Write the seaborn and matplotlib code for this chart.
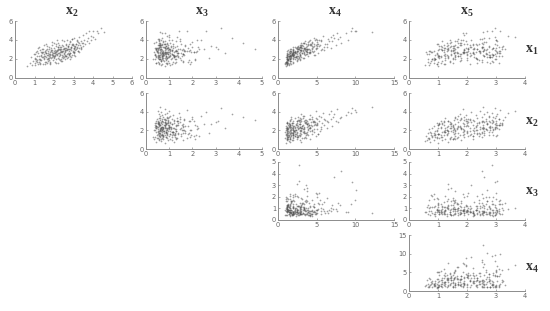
import matplotlib
matplotlib.use("Agg")
import matplotlib.pyplot as plt
import pandas as pd
import seaborn as sns

x1 = [
    1.3, 1.55, 2.2, 1.4, 1.75, 2.5, 1.6, 2.1, 1.35, 2.7, 1.9, 2.3, 1.45, 2.6, 1.7,
    2.05, 2.9, 1.6, 2.4, 1.85, 2.75, 2.2, 3.1, 1.5, 2.55, 1.95, 2.85, 2.35, 1.7, 2.65,
    2.45, 3.0, 1.8, 2.6, 3.3, 2.1, 2.75, 1.55, 2.4, 2.95, 2.2, 3.5, 2.55, 1.9, 2.8,
    3.15, 2.35, 2.7, 1.95, 3.4, 2.5, 2.9, 2.15, 3.7, 2.6, 3.05, 2.3, 3.25, 2.75, 1.8,
    3.0, 2.45, 3.5, 2.8, 2.15, 3.9, 2.65, 3.2, 2.4, 2.95, 3.6, 2.55, 3.1, 2.25, 3.35,
    2.8, 3.05, 2.6, 3.75, 2.95, 3.3, 2.45, 4.1, 2.85, 3.5, 3.15, 2.7, 4.2, 3.4, 2.9,
    3.6, 3.0, 4.0, 3.3, 2.85, 3.75, 3.15, 4.3, 3.5, 3.9, 3.05, 3.7, 4.5, 3.35, 4.05,
    3.55, 4.7, 3.85, 4.2, 3.7, 4.9, 4.45, 4.0, 4.95, 4.3, 4.15, 5.0, 4.75, 5.3, 4.8,
    2.3, 2.6, 2.0, 2.5, 2.9, 2.25, 2.7, 3.1, 2.4, 2.85, 2.5, 3.2, 2.65, 3.0, 3.45,
    2.7, 1.95, 2.35, 2.15, 2.6, 2.9, 2.45, 2.0, 2.75, 2.3, 2.85, 2.1, 2.55, 3.3, 2.7,
    2.5, 3.2, 2.6, 3.6, 2.25, 3.7, 3.25, 1.75, 2.35, 3.9, 2.6, 3.15, 1.95, 2.85, 1.6,
    1.95, 2.2, 2.45, 2.9, 3.4, 3.25, 3.65, 2.8, 2.95, 2.35, 2.5, 2.65, 3.3, 2.5, 3.0,
    2.05, 1.45, 1.5, 1.5, 1.7, 1.85, 2.0, 2.3, 2.4, 2.75, 2.85, 3.05, 3.35, 3.75, 3.95,
    4.0, 4.05, 4.15, 3.6, 3.3, 3.3, 3.45, 1.85, 2.1, 2.6, 2.2, 2.45, 2.75, 2.85, 3.7,
    1.85, 2.2, 2.75, 1.6, 3.15, 2.65, 2.35, 2.75, 3.1, 2.35, 2.05, 2.9, 3.6, 3.45, 1.65,
    3.2, 2.55, 3.35, 3.6, 3.2, 1.65, 2.3, 3.45, 2.3, 3.2, 2.75, 2.45, 2.85, 2.2, 3.05,
    2.6, 2.95, 2.7, 2.35, 2.05, 2.95, 1.7, 2.5, 3.05, 3.3, 3.9, 3.15, 1.75, 2.1, 3.55,
    2.3, 1.6, 2.45, 3.6, 2.8, 3.5, 2.2, 3.35, 3.3, 3.1, 2.85, 2.7, 2.4, 3.0, 2.1,
]
x2 = [
    0.62, 0.75, 0.8, 0.88, 0.92, 0.95, 1.0, 1.02, 1.05, 1.1, 1.12, 1.15, 1.18, 1.2, 1.22,
    1.25, 1.28, 1.3, 1.32, 1.35, 1.38, 1.4, 1.42, 1.45, 1.48, 1.5, 1.52, 1.55, 1.58, 1.6,
    1.62, 1.65, 1.68, 1.7, 1.72, 1.75, 1.78, 1.8, 1.82, 1.85, 1.88, 1.9, 1.92, 1.95, 1.98,
    2.0, 2.02, 2.05, 2.08, 2.1, 2.12, 2.15, 2.18, 2.2, 2.22, 2.25, 2.28, 2.3, 2.32, 2.35,
    2.38, 2.4, 2.42, 2.45, 2.48, 2.5, 2.52, 2.55, 2.58, 2.6, 2.62, 2.65, 2.68, 2.7, 2.72,
    2.75, 2.78, 2.8, 2.82, 2.85, 2.88, 2.9, 2.92, 2.95, 2.98, 3.0, 3.02, 3.05, 3.08, 3.1,
    3.12, 3.15, 3.18, 3.2, 3.22, 3.25, 3.28, 3.3, 3.35, 3.38, 3.4, 3.45, 3.48, 3.5, 3.55,
    3.6, 3.65, 3.7, 3.72, 3.78, 3.82, 3.88, 3.92, 3.98, 4.02, 4.1, 4.18, 4.25, 4.4, 4.55,
    1.5, 1.6, 1.7, 1.8, 1.9, 2.0, 2.1, 2.2, 2.3, 2.4, 2.5, 2.6, 2.7, 2.8, 2.9,
    1.55, 1.65, 1.75, 1.85, 1.95, 2.05, 2.15, 2.25, 2.35, 2.45, 2.55, 2.65, 2.75, 2.85, 2.95,
    1.0, 1.2, 1.4, 1.6, 1.8, 2.0, 2.2, 2.4, 2.6, 2.8, 3.0, 3.2, 1.3, 1.7, 2.1,
    1.1, 1.45, 1.9, 2.3, 2.7, 3.1, 3.3, 2.15, 2.55, 1.35, 1.75, 2.05, 2.35, 2.75, 3.05,
    1.05, 1.3, 1.55, 1.8, 2.05, 2.3, 2.55, 2.8, 3.05, 3.3, 1.15, 1.4, 1.65, 1.9, 2.15,
    2.4, 2.65, 2.9, 3.15, 3.4, 1.25, 1.5, 1.75, 2.0, 2.25, 2.5, 2.75, 3.0, 3.25, 3.5,
    1.3, 1.6, 1.9, 2.2, 2.5, 2.8, 3.1, 1.45, 1.75, 2.05, 2.35, 2.65, 2.95, 3.25, 1.15,
    1.85, 2.15, 2.45, 2.75, 3.05, 1.55, 1.95, 2.25, 2.55, 2.85, 1.35, 1.7, 2.1, 2.4, 2.7,
    2.0, 2.2, 2.4, 2.6, 2.8, 1.6, 1.8, 2.3, 2.5, 2.7, 3.2, 3.4, 1.1, 1.5, 2.9,
    1.25, 1.65, 1.95, 2.1, 2.35, 2.6, 2.85, 3.0, 2.2, 2.45, 1.85, 2.55, 2.05, 2.3, 1.7,
]
x3 = [
    0.8, 0.45, 1.2, 0.65, 0.95, 1.6, 0.55, 0.75, 1.05, 0.35, 2.1, 0.7, 0.9, 1.35, 0.5,
    0.6, 1.1, 0.85, 0.4, 1.5, 0.72, 0.98, 2.3, 0.58, 0.82, 1.25, 0.48, 0.68, 1.8, 0.92,
    1.02, 0.52, 0.78, 1.4, 0.62, 2.7, 0.88, 0.42, 1.15, 0.7, 0.55, 1.7, 0.95, 0.66, 1.3,
    0.38, 0.85, 1.95, 0.6, 1.08, 0.75, 0.5, 1.45, 0.9, 3.4, 0.64, 1.2, 0.8, 0.46, 1.6,
    1.0, 0.7, 0.56, 2.2, 0.84, 1.28, 0.6, 0.94, 0.4, 1.55, 0.76, 1.1, 2.5, 0.52, 0.88,
    0.66, 1.38, 0.8, 0.44, 1.05, 3.0, 0.72, 0.58, 1.85, 0.96, 0.5, 1.22, 0.68, 0.86, 1.65,
    0.62, 4.7, 1.12, 0.78, 0.48, 2.0, 0.9, 1.32, 0.54, 0.74, 1.48, 4.2, 0.98, 0.6, 2.35,
    1.18, 0.7, 0.82, 3.7, 0.56, 1.42, 0.92, 0.65, 2.6, 1.0, 0.5, 1.75, 0.8, 3.25, 0.6,
    0.75, 1.05, 0.55, 0.88, 1.3, 0.62, 0.98, 0.45, 1.15, 0.72, 1.6, 0.58, 0.85, 1.02, 0.5,
    0.9, 0.68, 1.25, 0.52, 0.78, 1.9, 0.6, 1.08, 0.82, 0.42, 1.35, 0.7, 0.95, 0.65, 2.05,
    1.12, 0.48, 0.74, 1.5, 0.86, 0.36, 2.25, 0.66, 1.0, 0.56, 1.4, 0.8, 0.32, 1.7, 0.92,
    0.58, 1.2, 0.76, 0.44, 2.8, 0.96, 0.62, 1.28, 0.84, 0.54, 1.58, 0.7, 1.06, 0.4, 3.1,
    1.3, 1.9, 0.7, 1.1, 1.6, 0.85, 2.1, 0.5, 1.35, 0.95, 1.75, 0.6, 1.15, 0.75, 2.2,
    1.0, 0.55, 1.45, 0.8, 2.0, 1.25, 0.65, 1.85, 0.9, 1.5, 0.45, 1.2, 0.7, 1.65, 1.05,
    0.75, 1.4, 0.6, 1.0, 1.8, 0.5, 1.2, 2.15, 0.85, 1.55, 0.4, 1.1, 1.9, 0.7, 1.3,
    1.15, 0.65, 1.7, 0.9, 0.45, 1.95, 1.05, 0.6, 1.4, 0.8, 2.05, 0.55, 1.25, 0.7, 1.6,
    0.7, 0.95, 0.5, 1.3, 0.85, 0.6, 1.15, 0.75, 1.0, 0.55, 1.45, 0.9, 0.65, 1.1, 0.8,
    0.85, 1.25, 0.5, 0.7, 1.05, 0.6, 0.95, 1.35, 0.75, 0.45, 1.1, 0.8, 1.65, 0.65, 0.9,
]
x4 = [
    1.0, 1.6, 3.0, 1.4, 1.1, 1.8, 1.9, 1.2, 1.2, 4.2, 2.4, 1.5, 0.9, 3.1, 2.0,
    2.6, 2.0, 1.3, 3.5, 2.8, 1.7, 1.1, 4.9, 1.7, 2.5, 1.3, 3.6, 2.0, 1.0, 5.2,
    1.5, 4.4, 2.5, 1.6, 2.8, 3.4, 2.2, 0.95, 4.6, 1.9, 2.1, 5.4, 3.3, 1.1, 3.0,
    2.3, 3.9, 1.9, 2.9, 4.7, 1.3, 5.5, 3.2, 3.4, 2.7, 2.0, 2.6, 6.4, 4.1, 1.7,
    3.3, 2.9, 3.1, 1.6, 1.4, 7.0, 4.0, 2.5, 1.8, 6.0, 4.3, 1.4, 3.8, 2.3, 5.1,
    2.5, 5.7, 1.2, 3.9, 2.8, 3.6, 4.8, 6.5, 1.5, 7.5, 3.0, 4.5, 4.6, 2.6, 3.5,
    6.1, 2.7, 4.1, 5.9, 4.4, 5.0, 4.9, 8.0, 2.9, 5.6, 1.7, 8.2, 7.1, 3.2, 5.3,
    4.2, 8.8, 6.6, 7.3, 3.0, 9.4, 5.8, 9.0, 10.1, 6.9, 4.9, 10.0, 7.6, 9.6, 12.2,
    2.9, 1.9, 1.9, 3.8, 1.3, 2.2, 3.4, 4.0, 1.2, 2.4, 2.1, 5.0, 1.5, 3.6, 4.3,
    1.4, 2.2, 1.1, 2.4, 4.2, 3.0, 1.7, 1.1, 2.8, 1.9, 4.6, 2.7, 1.2, 4.5, 3.7,
    2.9, 3.4, 2.2, 5.2, 1.7, 4.4, 2.2, 1.5, 2.3, 3.5, 3.3, 6.8, 1.6, 1.9, 1.1,
    1.6, 2.7, 2.1, 4.2, 3.8, 2.8, 3.2, 1.1, 3.2, 1.4, 3.6, 2.0, 2.0, 1.8, 2.4,
    1.3, 1.1, 1.2, 1.4, 1.0, 1.3, 1.6, 1.4, 2.0, 2.2, 3.6, 2.6, 3.0, 4.4, 5.0,
    5.6, 4.8, 7.8, 3.6, 2.6, 2.5, 3.9, 1.3, 1.5, 3.1, 1.0, 1.9, 2.4, 1.7, 3.3,
    1.3, 2.3, 2.1, 1.0, 3.1, 1.8, 1.5, 2.0, 3.5, 1.7, 1.2, 2.9, 6.4, 3.0, 1.2,
    3.4, 2.0, 4.4, 5.0, 2.7, 1.0, 1.5, 4.1, 1.3, 3.5, 2.2, 1.8, 2.6, 1.4, 3.7,
    2.3, 3.0, 3.8, 1.6, 1.2, 3.7, 1.1, 1.8, 3.9, 2.9, 4.0, 4.4, 1.5, 2.0, 4.7,
    2.4, 1.2, 2.8, 3.9, 2.2, 4.9, 1.1, 5.3, 3.0, 2.6, 3.2, 4.0, 1.2, 1.6, 1.7,
]
x5 = [
    1.0, 0.72, 1.35, 0.55, 1.15, 1.8, 0.85, 1.5, 0.68, 2.2, 1.25, 1.05, 0.95, 1.65, 1.4,
    0.8, 1.9, 1.1, 1.45, 2.4, 0.6, 1.6, 2.05, 1.2, 1.75, 0.9, 1.3, 2.6, 1.0, 1.55,
    2.15, 1.05, 0.75, 1.7, 2.5, 1.35, 1.85, 1.5, 2.75, 1.15, 2.25, 1.6, 0.95, 2.0, 1.45,
    2.9, 1.25, 1.9, 2.35, 1.55, 0.7, 2.65, 1.8, 1.4, 3.05, 1.1, 2.1, 1.65, 2.45, 2.85,
    1.3, 2.8, 1.75, 0.85, 2.3, 1.95, 3.1, 1.5, 2.55, 1.2, 2.0, 2.95, 1.6, 2.7, 1.05,
    2.4, 3.2, 1.85, 1.45, 2.6, 2.15, 2.9, 1.7, 3.0, 1.35, 2.5, 1.95, 2.75, 3.25, 1.55,
    2.2, 2.85, 1.8, 3.1, 2.05, 2.65, 1.25, 2.95, 2.35, 1.6, 3.3, 2.5, 1.9, 2.75, 3.0,
    2.3, 1.95, 3.05, 2.6, 1.75, 2.85, 3.4, 2.15, 2.7, 3.65, 2.45, 3.15, 1.85, 2.95, 2.55,
    1.1, 2.45, 0.65, 2.0, 1.35, 2.8, 1.65, 2.25, 1.0, 2.55, 1.45, 3.0, 1.9, 2.35, 1.2,
    1.85, 0.9, 2.6, 1.25, 2.1, 1.5, 2.9, 0.78, 2.3, 1.7, 3.15, 1.05, 2.7, 1.4, 2.0,
    0.62, 1.55, 2.2, 1.0, 2.85, 1.3, 2.5, 1.75, 3.2, 1.15, 2.65, 1.95, 0.88, 2.4, 3.1,
    1.6, 2.75, 1.2, 2.95, 1.45, 2.1, 1.8, 2.55, 1.0, 3.0, 2.25, 0.98, 1.7, 2.85, 1.35,
    1.5, 0.95, 2.1, 1.25, 2.7, 1.8, 2.35, 1.05, 2.9, 1.6, 0.7, 2.2, 1.3, 2.6, 1.85,
    3.0, 1.4, 2.5, 1.9, 2.75, 1.15, 3.05, 0.85, 2.3, 1.55, 2.8, 2.0, 1.2, 3.1, 1.7,
    2.5, 1.0, 1.9, 2.8, 1.35, 3.15, 1.75, 0.75, 2.35, 1.6, 2.95, 1.15, 2.55, 2.1, 0.65,
    1.2, 2.65, 1.5, 0.95, 2.25, 2.9, 1.35, 1.8, 3.1, 2.05, 0.8, 1.6, 2.45, 1.1, 2.7,
    2.2, 1.45, 2.75, 1.0, 3.0, 1.9, 2.5, 1.25, 2.05, 3.2, 1.65, 2.9, 1.4, 0.85, 2.4,
    1.7, 2.35, 0.9, 2.95, 1.5, 2.2, 2.8, 1.1, 2.55, 1.9, 0.72, 3.05, 1.3, 2.6, 2.0,
]

x_ticks = {"x2": [0, 1, 2, 3, 4, 5, 6], "x3": [0, 1, 2, 3, 4, 5],
           "x4": [0, 5, 10, 15], "x5": [0, 1, 2, 3, 4]}
y_ticks = {"x1": [0, 2, 4, 6], "x2": [0, 2, 4, 6],
           "x3": [0, 1, 2, 3, 4, 5], "x4": [0, 5, 10, 15]}

W, H = 550, 311
COLS = {"x2": (15, 132), "x3": (146, 262), "x4": (278, 394), "x5": (409, 525)}
ROWS = {"x1": (21, 78), "x2": (93, 149), "x3": (162, 220), "x4": (235, 291)}
ROW_LABEL_Y = {"x1": 50, "x2": 122, "x3": 192, "x4": 268}
GREY = "#8c8c8c"


def sub_label(name):
    return rf"$\mathrm{{x}}_{{{name[1]}}}$"


def main():
    sns.set_theme(style="white")
    plt.rcParams["mathtext.fontset"] = "custom"
    plt.rcParams["mathtext.rm"] = "Liberation Serif:bold"
    df = pd.DataFrame({"x1": x1, "x2": x2, "x3": x3, "x4": x4, "x5": x5})
    fig = plt.figure(figsize=(W / 100, H / 100), dpi=100)

    for yvar, (top, bottom) in ROWS.items():
        for xvar, (left, right) in COLS.items():
            if int(xvar[1]) <= int(yvar[1]):
                continue
            ax = fig.add_axes([left / W, 1 - bottom / H,
                               (right - left) / W, (bottom - top) / H])
            sns.scatterplot(data=df, x=xvar, y=yvar, ax=ax, s=1.5, color="#555555",
                            alpha=0.55, linewidth=0, legend=False)
            ax.set_xlim(x_ticks[xvar][0], x_ticks[xvar][-1])
            ax.set_ylim(y_ticks[yvar][0], y_ticks[yvar][-1])
            ax.set_xticks(x_ticks[xvar])
            ax.set_yticks(y_ticks[yvar])
            ax.set_xlabel("")
            ax.set_ylabel("")
            ax.patch.set_alpha(0)
            ax.tick_params(axis="both", labelsize=4.8, labelcolor="#666666", direction="in",
                           length=1.2, width=0.5, pad=1.5, color=GREY,
                           bottom=True, left=True)
            sns.despine(ax=ax)
            for side in ("left", "bottom"):
                ax.spines[side].set_color(GREY)
                ax.spines[side].set_linewidth(0.7)

    title_x = {"x2": 72, "x3": 202, "x4": 335, "x5": 467}
    for xvar, x in title_x.items():
        fig.text(x / W, 1 - 12 / H, sub_label(xvar), fontsize=10,
                 color="#333333", ha="center", va="center")
    for yvar, y in ROW_LABEL_Y.items():
        fig.text(532 / W, 1 - y / H, sub_label(yvar), fontsize=10, color="#333333",
                 ha="center", va="center")

    fig.savefig("out.png", dpi=100)
    plt.close(fig)


if __name__ == "__main__":
    main()
